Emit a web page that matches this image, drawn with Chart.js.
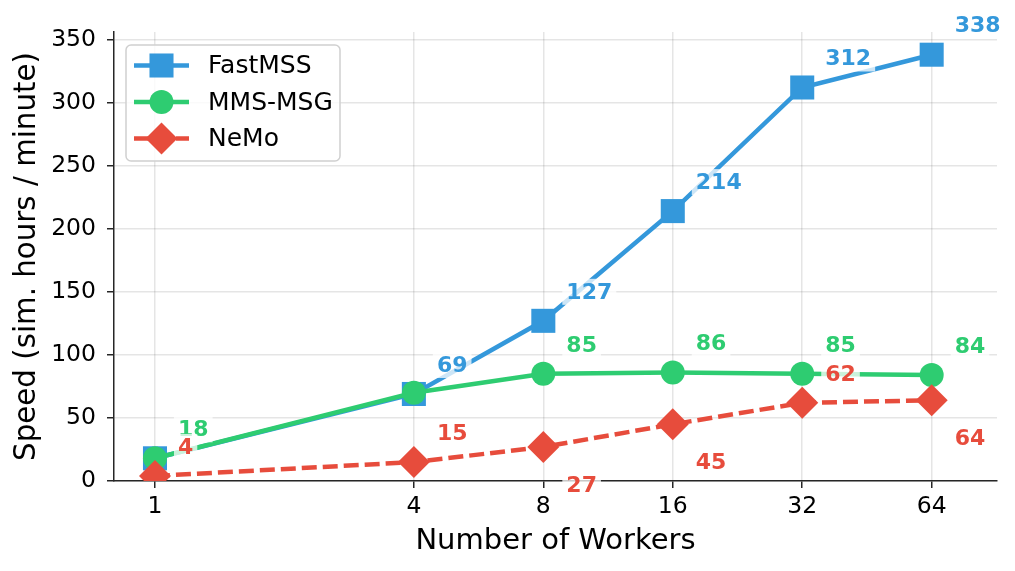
<!DOCTYPE html>
<html>
<head>
<meta charset="utf-8">
<script src="https://cdn.jsdelivr.net/npm/chart.js@4.4.1/dist/chart.umd.min.js"></script>
<style>
  html, body { margin: 0; padding: 0; background: #fff; }
  #wrap { width: 1015px; height: 571px; }
</style>
</head>
<body>
<div id="wrap"><canvas id="speedChart" width="1015" height="571"></canvas></div>
<script>
// values
const workers = [1, 4, 8, 16, 32, 64];
const fastMSS = [18, 69, 127, 214, 312, 338];
const mmsMSG = [18, 70, 85, 86, 85, 84];
const nemo = [4, 15, 27, 45, 62, 64];
const xTicks = [1, 4, 8, 16, 32, 64];
const yTicks = [0, 50, 100, 150, 200, 250, 300, 350];

const FONT = '"DejaVu Sans", sans-serif';

function toPoints(values) {
    return values.map((v, i) => ({ x: workers[i], y: v }));
}

// draw one marker shape (used by the legend)
function drawMarker(ctx, style, x, y, r) {
    ctx.beginPath();
    if (style === 'rect') {
        const s = Math.SQRT1_2 * r;
        ctx.rect(x - s, y - s, 2 * s, 2 * s);
    } else if (style === 'rectRot') {
        ctx.moveTo(x - r, y);
        ctx.lineTo(x, y - r);
        ctx.lineTo(x + r, y);
        ctx.lineTo(x, y + r);
        ctx.closePath();
    } else {
        ctx.arc(x, y, r, 0, Math.PI * 2);
    }
    ctx.fill();
}

// number next to every point, on a faint white box
const valueLabels = {
    id: 'valueLabels',
    afterDatasetsDraw(chart) {
        const ctx = chart.ctx;
        ctx.save();
        ctx.font = 'bold 22px ' + FONT;
        ctx.textAlign = 'left';
        ctx.textBaseline = 'middle';
        chart.data.datasets.forEach((ds, di) => {
            const meta = chart.getDatasetMeta(di);
            meta.data.forEach((pt, i) => {
                if (ds.labelSkip && ds.labelSkip[i]) return;
                const text = String(ds.data[i].y);
                const below = ds.labelBelow && ds.labelBelow[i];
                const tx = pt.x + 23;
                const ty = below ? pt.y + 38 : pt.y - 29;
                const w = ctx.measureText(text).width;
                ctx.fillStyle = 'rgba(255,255,255,0.75)';
                ctx.fillRect(tx - 4, ty - 13, w + 8, 26);
                ctx.fillStyle = ds.borderColor;
                ctx.fillText(text, tx, ty + 1);
            });
        });
        ctx.restore();
    }
};

// legend box with line + marker samples
const lineLegend = {
    id: 'lineLegend',
    afterDraw(chart) {
        const ctx = chart.ctx;
        const bx = chart.chartArea.left + 12;
        const by = chart.chartArea.top + 13;
        ctx.save();
        ctx.fillStyle = 'rgba(255,255,255,0.8)';
        ctx.strokeStyle = '#d0d0d0';
        ctx.lineWidth = 1.5;
        ctx.beginPath();
        ctx.roundRect(bx, by, 214, 116, 5);
        ctx.fill();
        ctx.stroke();

        chart.data.datasets.forEach((ds, i) => {
            const y = by + 20.5 + i * 36.5;
            ctx.strokeStyle = ds.borderColor;
            ctx.lineWidth = ds.borderWidth;
            ctx.setLineDash(ds.borderDash || []);
            ctx.beginPath();
            ctx.moveTo(bx + 8, y);
            ctx.lineTo(bx + 63, y);
            ctx.stroke();
            ctx.setLineDash([]);
            ctx.fillStyle = ds.borderColor;
            drawMarker(ctx, ds.pointStyle, bx + 35.5, y, ds.pointRadius);
            ctx.fillStyle = '#000';
            ctx.font = '25px ' + FONT;
            ctx.textBaseline = 'middle';
            ctx.fillText(ds.label, bx + 82, y + 1);
        });
        ctx.restore();
    }
};

const ctx = document.getElementById('speedChart').getContext('2d');
new Chart(ctx, {
    type: 'line',
    data: {
        datasets: [{
            label: 'FastMSS',
            data: toPoints(fastMSS),
            order: 3,
            borderColor: '#3498db',
            backgroundColor: '#3498db',
            borderWidth: 4.5,
            pointStyle: 'rect',
            pointRadius: 17,
            pointBorderWidth: 0,
            labelSkip: [true, false, false, false, false, false]
        }, {
            label: 'MMS-MSG',
            data: toPoints(mmsMSG),
            order: 2,
            borderColor: '#2ecc71',
            backgroundColor: '#2ecc71',
            borderWidth: 4.5,
            pointStyle: 'circle',
            pointRadius: 12,
            pointBorderWidth: 0,
            labelSkip: [false, true, false, false, false, false]
        }, {
            label: 'NeMo',
            data: toPoints(nemo),
            order: 1,
            borderColor: '#e74c3c',
            backgroundColor: '#e74c3c',
            borderWidth: 4.5,
            borderDash: [15, 6],
            pointStyle: 'rectRot',
            pointRadius: 16,
            pointBorderWidth: 0,
            labelBelow: [false, false, true, true, false, true]
        }]
    },
    options: {
        responsive: false,
        animation: false,
        devicePixelRatio: 1,
        layout: { padding: { top: 32, right: 18, left: 0, bottom: 0 } },
        plugins: {
            legend: { display: false },
            tooltip: { enabled: false }
        },
        elements: { line: { tension: 0 } },
        scales: {
            x: {
                type: 'logarithmic',
                min: 0.803,
                max: 90.8,
                afterBuildTicks: s => { s.ticks = xTicks.map(v => ({ value: v })); },
                afterFit: s => { s.height = 90; },
                ticks: {
                    callback: v => String(v),
                    color: '#000',
                    font: { family: FONT, size: 23.5 },
                    padding: 5,
                    maxRotation: 0,
                    autoSkip: false
                },
                grid: {
                    color: 'rgba(0,0,0,0.1)',
                    lineWidth: 1.5,
                    tickLength: 7,
                    tickColor: '#262626',
                    tickWidth: 1.5
                },
                border: { display: true, color: '#262626', width: 1.5 },
                title: {
                    display: true,
                    text: 'Number of Workers',
                    color: '#000',
                    font: { family: FONT, size: 29 },
                    padding: { top: 0, bottom: 12 }
                }
            },
            y: {
                min: 0,
                max: 356,
                afterBuildTicks: s => { s.ticks = yTicks.map(v => ({ value: v })); },
                afterFit: s => { s.width = 114; },
                ticks: {
                    color: '#000',
                    font: { family: FONT, size: 23.5 },
                    padding: 11
                },
                grid: {
                    color: 'rgba(0,0,0,0.1)',
                    lineWidth: 1.5,
                    tickLength: 7,
                    tickColor: '#262626',
                    tickWidth: 1.5
                },
                border: { display: true, color: '#262626', width: 1.5 },
                title: {
                    display: true,
                    text: 'Speed (sim. hours / minute)',
                    color: '#000',
                    font: { family: FONT, size: 29.3 },
                    padding: { top: 10, bottom: 0 }
                }
            }
        }
    },
    plugins: [valueLabels, lineLegend]
});
</script>
</body>
</html>
